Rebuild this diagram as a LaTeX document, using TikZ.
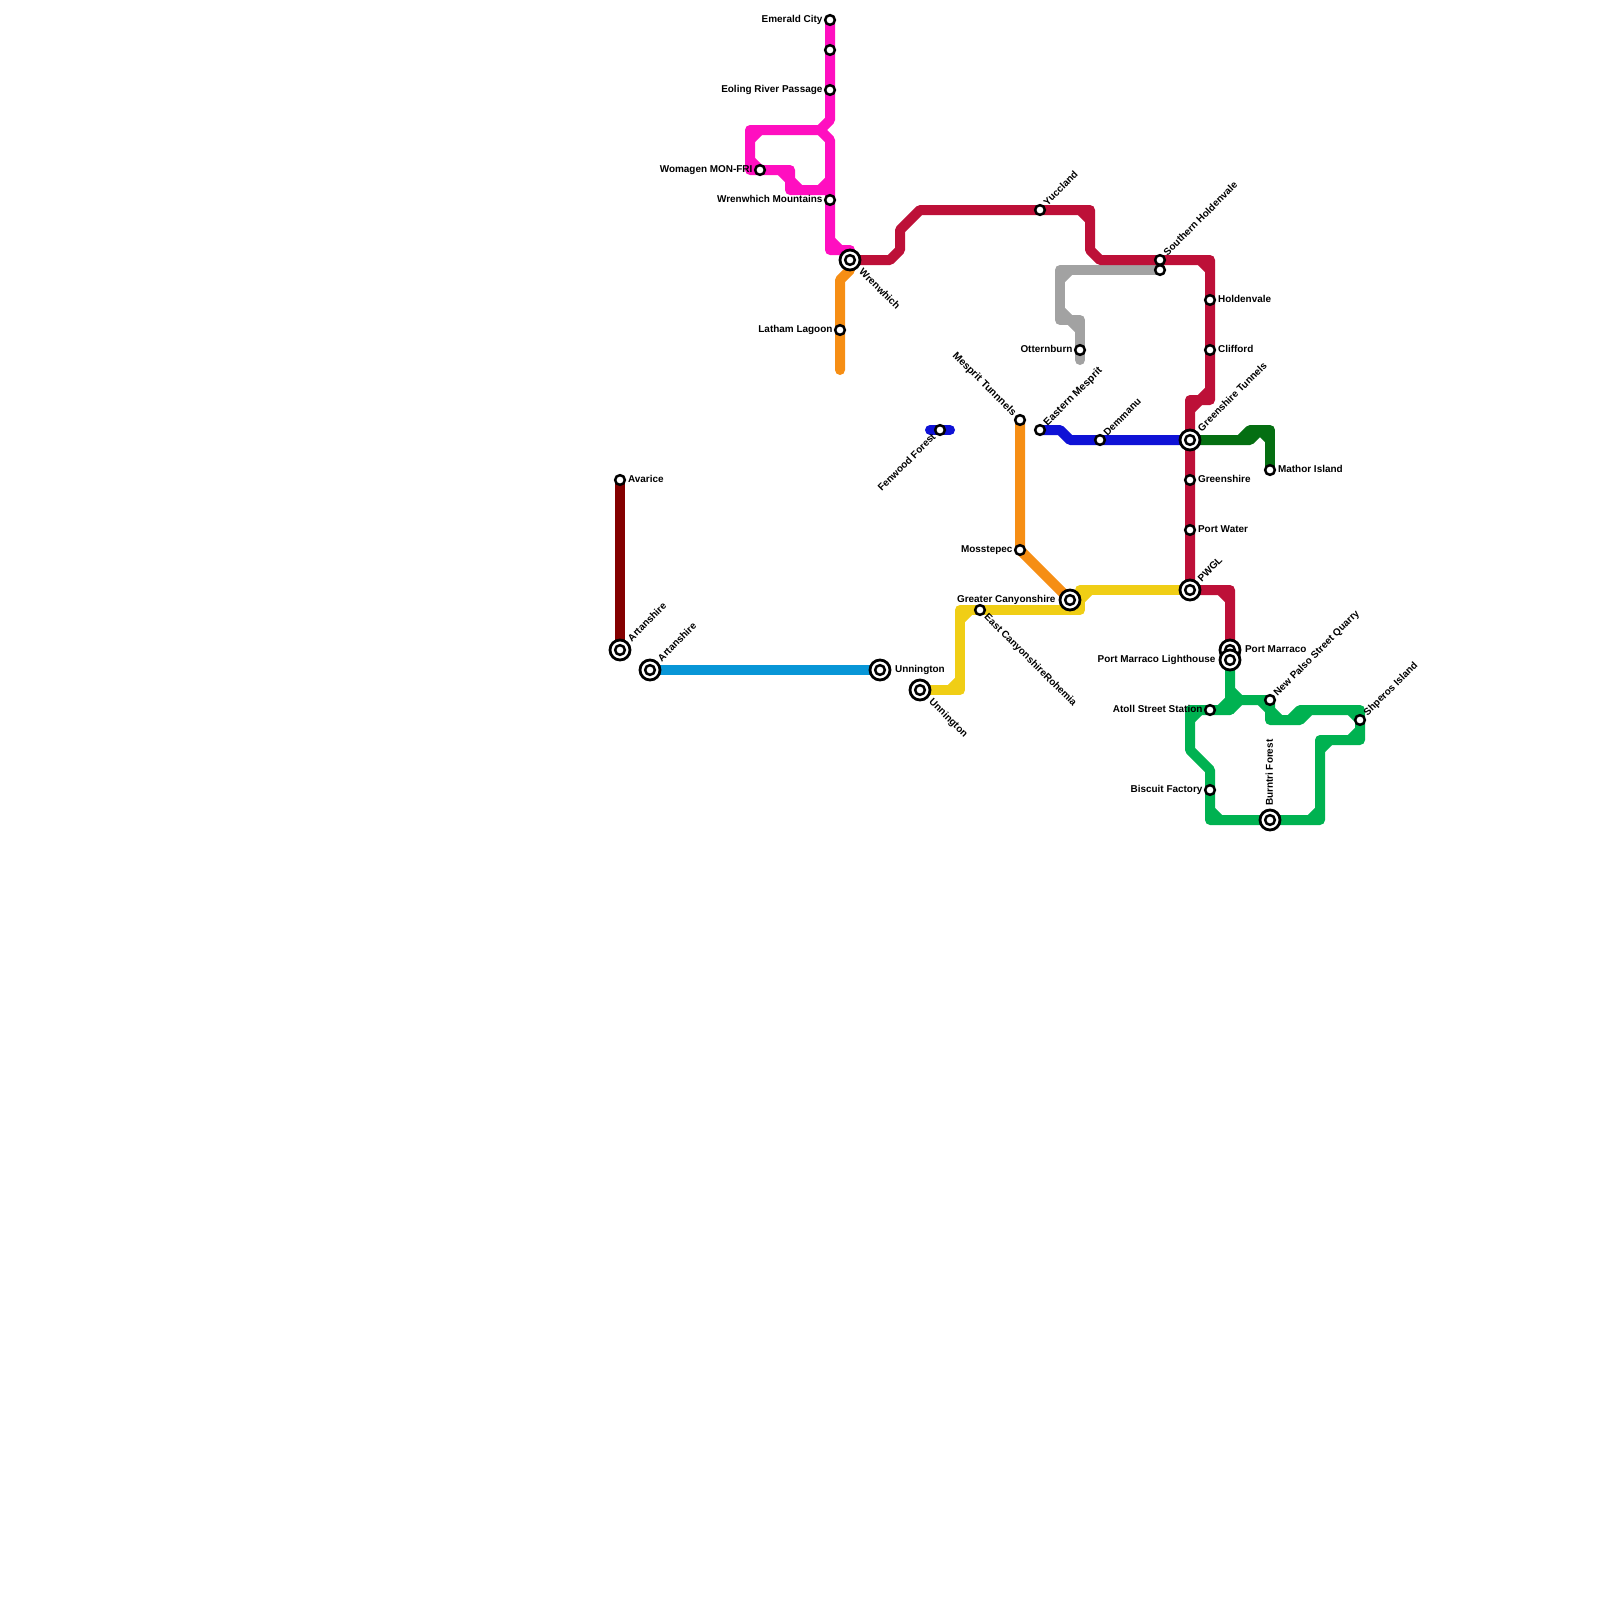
\documentclass[tikz,border=0pt]{standalone}
\usepackage{fontspec}
\setmainfont{Liberation Sans}
\definecolor{pinkline}{HTML}{FF0FC0}
\definecolor{crimsonline}{HTML}{BD1038}
\definecolor{orangeline}{HTML}{F68E14}
\definecolor{greyline}{HTML}{A2A2A2}
\definecolor{blueline}{HTML}{0F12D6}
\definecolor{greenline}{HTML}{00B251}
\definecolor{forestline}{HTML}{056F12}
\definecolor{yellowline}{HTML}{F0CE15}
\definecolor{skyline}{HTML}{0896D7}
\definecolor{maroonline}{HTML}{840000}
\tikzset{
  route/.style={line width=1cm, line cap=round, line join=round},
  stn/.style={circle, draw=black, fill=white, line width=.25cm, minimum size=.97cm, inner sep=0pt, outer sep=0pt},
  hubring/.style={circle, draw=black, fill=white, line width=.28cm, minimum size=2cm, inner sep=0pt, outer sep=0pt},
  lbl/.style={font=\fontsize{28.3}{32}\selectfont\bfseries, inner sep=0pt, text height=.75cm, text depth=.2cm},
  lr/.style={lbl, anchor=west, xshift=.8cm},
  ll/.style={lbl, anchor=east, xshift=-.75cm},
  lur/.style={lbl, anchor=west, rotate=45, xshift=.8cm},
  ldr/.style={lbl, anchor=west, rotate=-45, xshift=.8cm},
  lul/.style={lbl, anchor=east, rotate=-45, xshift=-.8cm},
  ldl/.style={lbl, anchor=east, rotate=45, xshift=-.8cm},
}
\begin{document}
\begin{tikzpicture}[x=1cm, y=-1cm]
    \useasboundingbox (0,0) rectangle (160,160);
    % stations
    \coordinate (emerald) at (83,2);
    \coordinate (unnamed) at (83,5);
    \coordinate (eoling) at (83,9);
    \coordinate (womagen) at (76,17);
    \coordinate (wrenmtn) at (83,20);
    \coordinate (wrenwhich) at (85,26);
    \coordinate (latham) at (84,33);
    \coordinate (yucc) at (104,21);
    \coordinate (southern) at (116,26);
    \coordinate (southerngrey) at (116,27);
    \coordinate (holdenvale) at (121,30);
    \coordinate (clifford) at (121,35);
    \coordinate (otternburn) at (108,35);
    \coordinate (mesprit) at (102,42);
    \coordinate (eastmesprit) at (104,43);
    \coordinate (demmanu) at (110,44);
    \coordinate (tunnels) at (119,44);
    \coordinate (greenshire) at (119,48);
    \coordinate (portwater) at (119,53);
    \coordinate (pwgl) at (119,59);
    \coordinate (mathor) at (127,47);
    \coordinate (fenwood) at (94,43);
    \coordinate (mosstepec) at (102,55);
    \coordinate (canyon) at (107,60);
    \coordinate (eastcanyon) at (98,61);
    \coordinate (unnA) at (88,67);
    \coordinate (unnB) at (92,69);
    \coordinate (artA) at (62,65);
    \coordinate (artB) at (65,67);
    \coordinate (avarice) at (62,48);
    \coordinate (marraco) at (123,65);
    \coordinate (lighthouse) at (123,66);
    \coordinate (atoll) at (121,71);
    \coordinate (palso) at (127,70);
    \coordinate (shperos) at (136,72);
    \coordinate (burntri) at (127,82);
    \coordinate (biscuit) at (121,79);
    % pink
    \draw[route, pinkline] (emerald) -- (83,12) -- (82,13) -- (75,13) -- (75,17) -- (79,17) -- (79,19) -- (83,19);
    \draw[route, pinkline] (82,13) -- (83,14) -- (83,25) -- (85,25) -- (wrenwhich);
    \draw[route, pinkline] (75,14) -- (76,13) (75,16) -- (76,17) (78,17) -- (79,18) -- (80,19) (82,19) -- (83,18) (83,24) -- (84,25);
    % orange
    \draw[route, orangeline] (wrenwhich) -- (85,27) -- (84,28) -- (84,37);
    \draw[route, orangeline] (mesprit) -- (mosstepec) -- (canyon);
    % grey
    \draw[route, greyline] (southerngrey) -- (106,27) -- (106,32) -- (108,32) -- (108,36);
    \draw[route, greyline] (106,28) -- (107,27) (106,31) -- (107,32) -- (108,33);
    % crimson
    \draw[route, crimsonline] (wrenwhich) -- (89,26) -- (90,25) -- (90,23) -- (92,21) -- (109,21) -- (109,25) -- (110,26) -- (121,26) -- (121,40) -- (119,40) -- (pwgl) -- (123,59) -- (marraco);
    \draw[route, crimsonline] (108,21) -- (109,22) (120,26) -- (121,27) (121,39) -- (120,40) -- (119,41) (122,59) -- (123,60);
    % blue
    \draw[route, blueline] (eastmesprit) -- (106,43) -- (107,44) -- (tunnels);
    \draw[route, blueline] (93,43) -- (95,43);
    % dark green
    \draw[route, forestline] (tunnels) -- (125,44) -- (126,43) -- (125,43) -- (124,44);
    \draw[route, forestline] (126,43) -- (127,43) -- (mathor);
    \draw[route, forestline] (126,43) -- (127,44);
    % yellow
    \draw[route, yellowline] (unnB) -- (96,69) -- (96,61) -- (108,61) -- (108,59) -- (pwgl);
    \draw[route, yellowline] (95,69) -- (96,68) (96,62) -- (97,61) (107,61) -- (108,60) -- (109,59);
    % sky and maroon
    \draw[route, skyline] (artB) -- (unnA);
    \draw[route, maroonline] (avarice) -- (artA);
    % green
    \draw[route, greenline] (lighthouse) -- (123,71) -- (119,71) -- (119,75) -- (121,77) -- (121,82) -- (132,82) -- (132,74) -- (136,74) -- (136,71) -- (130,71) -- (129,72) -- (130,72) -- (131,71);
    \draw[route, greenline] (123,71) -- (124,70) -- (127,70) -- (127,72) -- (129,72);
    \draw[route, greenline] (123,69) -- (124,70) (122,71) -- (123,70) -- (124,70) (119,72) -- (120,71);
    \draw[route, greenline] (126,70) -- (127,71) -- (128,72) (135,71) -- (136,72) (135,74) -- (136,73) (132,75) -- (133,74) (131,82) -- (132,81) (121,81) -- (122,82);
    % small stations
    \foreach \st in {emerald,unnamed,eoling,womagen,wrenmtn,latham,yucc,southern,southerngrey,holdenvale,clifford,otternburn,mesprit,eastmesprit,demmanu,greenshire,portwater,mathor,fenwood,mosstepec,eastcanyon,avarice,atoll,palso,shperos,biscuit}
        \node[stn] (\st n) at (\st) {};
    % interchanges
    \foreach \st in {wrenwhich,tunnels,pwgl,canyon,unnA,unnB,artA,artB,marraco,lighthouse,burntri} {
        \node[hubring] (\st n) at (\st) {};
        \node[stn] at (\st) {};
    }
    % labels
    \node[ll] at (emerald) {Emerald City};
    \node[ll] at (eoling) {Eoling River Passage};
    \node[ll] at (womagen) {Womagen MON-FRI};
    \node[ll] at (wrenmtn) {Wrenwhich Mountains};
    \node[ll] at (latham) {Latham Lagoon};
    \node[ll] at (otternburn) {Otternburn};
    \node[ll] at (mosstepec) {Mosstepec};
    \node[ll] at (atoll) {Atoll Street Station};
    \node[ll] at (biscuit) {Biscuit Factory};
    \node[ll, xshift=-.7cm] at (canyon) {Greater Canyonshire};
    \node[ll, xshift=-.7cm] at (lighthouse) {Port Marraco Lighthouse};
    \node[lr] at (avarice) {Avarice};
    \node[lr] at (holdenvale) {Holdenvale};
    \node[lr] at (clifford) {Clifford};
    \node[lr] at (greenshire) {Greenshire};
    \node[lr] at (portwater) {Port Water};
    \node[lr] at (mathor) {Mathor Island};
    \node[lr, xshift=.7cm] at (unnA) {Unnington};
    \node[lr, xshift=.7cm] at (marraco) {Port Marraco};
    \node[lur] at (yucc) {Yuccland};
    \node[lur] at (southern) {Southern Holdenvale};
    \node[lur, font=\fontsize{29.5}{32}\selectfont\bfseries] at (eastmesprit) {Eastern Mesprit};
    \node[lur] at (demmanu) {Demmanu};
    \node[lur] at (palso) {New Palso Street Quarry};
    \node[lur] at (shperos) {Shperos Island};
    \node[lur, xshift=.6cm] at (tunnels) {Greenshire Tunnels};
    \node[lur, xshift=.6cm] at (pwgl) {PWGL};
    \node[lur, xshift=.6cm] at (artA) {Artanshire};
    \node[lur, xshift=.6cm] at (artB) {Artanshire};
    \node[ldr, xshift=.7cm] at (wrenwhich) {Wrenwhich};
    \node[ldr, xshift=.7cm] at (unnB) {Unnington};
    \node[ldr] at (eastcanyon) {East CanyonshireRohemia};
    \node[lul, font=\fontsize{29.5}{32}\selectfont\bfseries] at (mesprit) {Mesprit Tunnnels};
    \node[ldl] at (fenwood) {Fenwood Forest};
    \node[lbl, anchor=west, rotate=90, xshift=1.4cm] at (burntri) {Burntri Forest};
\end{tikzpicture}
\end{document}
